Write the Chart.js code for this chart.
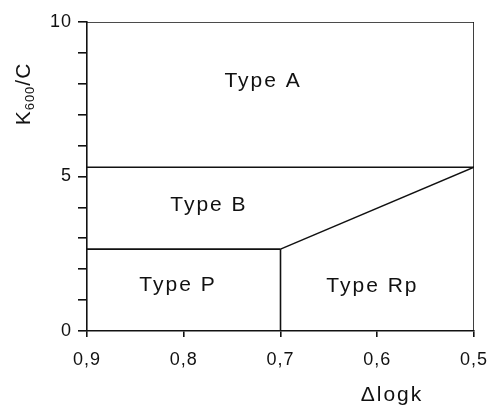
<!DOCTYPE html>
<html>
<head>
<meta charset="utf-8">
<script src="https://cdn.jsdelivr.net/npm/chart.js"></script>
<style>
  html, body { margin: 0; padding: 0; background: #fff; }
  #wrap { width: 490px; height: 405px; }
</style>
</head>
<body>
<div id="wrap"><canvas id="chart"></canvas></div>
<script>
// boundaries of the classification diagram (x = delta log k, y = K600/C)
const frameX = [0.9, 0.5, 0.5];
const frameY = [10, 10, 0];
const upperLineX = [0.9, 0.5];
const upperLineY = [5.3, 5.3];
const lowerLineX = [0.9, 0.7];
const lowerLineY = [2.65, 2.65];
const verticalX = [0.7, 0.7];
const verticalY = [0, 2.65];
const diagonalX = [0.7, 0.5];
const diagonalY = [2.65, 5.3];

const regionNames = ["Type A", "Type B", "Type P", "Type Rp"];
const regionX = [0.719, 0.775, 0.807, 0.606];
const regionY = [8.1, 4.06, 1.47, 1.44];

const xTicks = [0.9, 0.8, 0.7, 0.6, 0.5];
const yLabelled = [0, 5, 10];

const FONT = "'Liberation Sans', Arial, sans-serif";

function pts(xs, ys) {
    return xs.map((x, i) => ({ x: x, y: ys[i] }));
}

function lineSet(xs, ys) {
    return {
        data: pts(xs, ys),
        showLine: true,
        borderColor: "#111",
        borderWidth: 1.6,
        pointRadius: 0,
        fill: false
    };
}

// wider letter spacing like the original figure's font
const spacingPlugin = {
    id: "spacing",
    beforeDraw(chart) {
        chart.ctx.letterSpacing = "1px";
    }
};

const labelsPlugin = {
    id: "labels",
    afterDatasetsDraw(chart) {
        const ctx = chart.ctx;
        const xs = chart.scales.x, ys = chart.scales.y;
        ctx.save();
        ctx.fillStyle = "#111";
        ctx.letterSpacing = "2px";
        ctx.font = "21px " + FONT;
        ctx.textAlign = "center";
        ctx.textBaseline = "middle";
        regionNames.forEach((name, i) => {
            ctx.fillText(name, xs.getPixelForValue(regionX[i]) + 1, ys.getPixelForValue(regionY[i]));
        });

        // x axis title
        ctx.font = "21px " + FONT;
        ctx.fillText("\u0394logk", 392, 395);

        // y axis title with subscript, rotated
        ctx.letterSpacing = "1px";
        ctx.translate(30, 94);
        ctx.rotate(-Math.PI / 2);
        ctx.textAlign = "left";
        ctx.textBaseline = "alphabetic";
        ctx.font = "21px " + FONT;
        const kW = ctx.measureText("K").width;
        ctx.font = "13px " + FONT;
        const subW = ctx.measureText("600").width;
        ctx.font = "21px " + FONT;
        const restW = ctx.measureText("/C").width;
        const x0 = -(kW + subW + restW) / 2;
        ctx.fillText("K", x0, 0);
        ctx.font = "13px " + FONT;
        ctx.fillText("600", x0 + kW, 4);
        ctx.font = "21px " + FONT;
        ctx.fillText("/C", x0 + kW + subW, 0);
        ctx.restore();
    }
};

new Chart(document.getElementById("chart"), {
    type: "scatter",
    data: {
        datasets: [
            lineSet(frameX, frameY),
            lineSet(upperLineX, upperLineY),
            lineSet(lowerLineX, lowerLineY),
            lineSet(verticalX, verticalY),
            lineSet(diagonalX, diagonalY)
        ]
    },
    options: {
        responsive: true,
        maintainAspectRatio: false,
        animation: false,
        layout: { padding: { top: 22, right: 16, left: 0, bottom: 0 } },
        plugins: {
            legend: { display: false },
            tooltip: { enabled: false }
        },
        scales: {
            x: {
                type: "linear",
                reverse: true,
                min: 0.5,
                max: 0.9,
                afterBuildTicks: s => { s.ticks = xTicks.map(v => ({ value: v })); },
                afterFit: s => { s.height = 74; s.paddingLeft = 0; s.paddingRight = 0; },
                border: { color: "#111", width: 1.6 },
                grid: { drawOnChartArea: false, tickLength: 6, color: "#111", lineWidth: 1.6 },
                ticks: {
                    color: "#111",
                    padding: 12,
                    maxRotation: 0,
                    font: { family: FONT, size: 18 },
                    callback: v => v.toFixed(1).replace(".", ",")
                }
            },
            y: {
                type: "linear",
                min: 0,
                max: 10,
                afterFit: s => { s.width = 87; s.paddingTop = 0; s.paddingBottom = 0; },
                border: { color: "#111", width: 1.6 },
                grid: { drawOnChartArea: false, tickLength: 9, color: "#111", lineWidth: 1.6 },
                ticks: {
                    color: "#111",
                    stepSize: 1,
                    padding: 6,
                    font: { family: FONT, size: 18 },
                    callback: v => yLabelled.includes(v) ? String(v) : ""
                }
            }
        }
    },
    plugins: [spacingPlugin, labelsPlugin]
});
</script>
</body>
</html>
